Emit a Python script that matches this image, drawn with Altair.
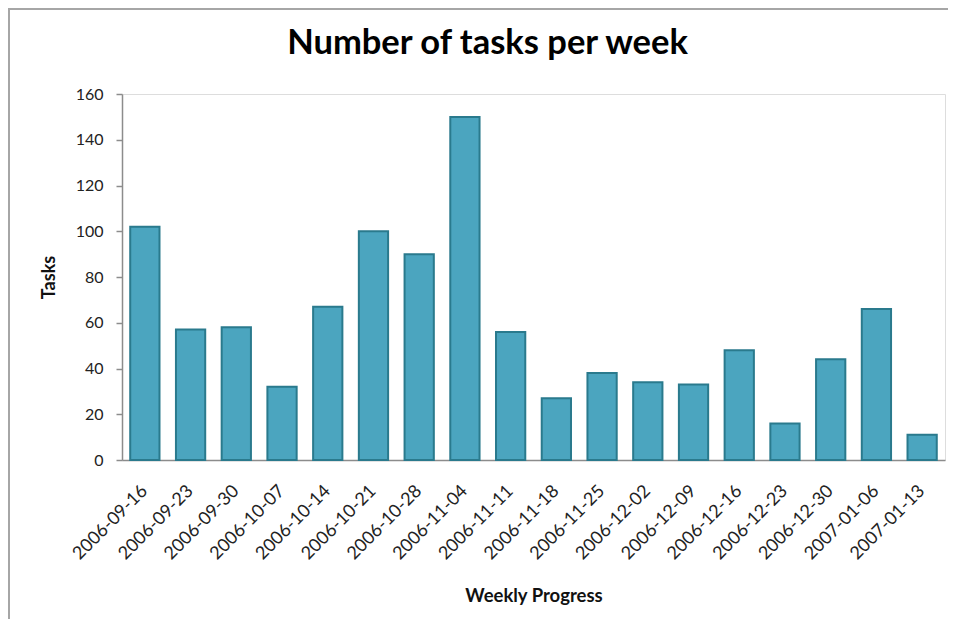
import altair as alt
import pandas as pd

weeks = ["2006-09-16", "2006-09-23", "2006-09-30", "2006-10-07", "2006-10-14",
         "2006-10-21", "2006-10-28", "2006-11-04", "2006-11-11", "2006-11-18",
         "2006-11-25", "2006-12-02", "2006-12-09", "2006-12-16", "2006-12-23",
         "2006-12-30", "2007-01-06", "2007-01-13"]
tasks = [102, 57, 58, 32, 67, 100, 90, 150, 56, 27, 38, 34, 33, 48, 16, 44, 66, 11]
y_ticks = [0, 20, 40, 60, 80, 100, 120, 140, 160]

df = pd.DataFrame({"week": weeks, "tasks": tasks})

FONT = "Lato"
W, H = 823, 366
PL, PT, PR, PB = 114, 86, 3, 159

bars = alt.Chart(df).mark_bar(
    fill="#4BA5BF", stroke="#2A7A8D", strokeWidth=2
).encode(
    x=alt.X("week:N", sort=None, title="Weekly Progress",
            scale=alt.Scale(paddingInner=0.36, paddingOuter=0.18),
            axis=alt.Axis(labelAngle=-45, labelAlign="right", labelBaseline="middle",
                          ticks=False, labelPadding=28, labelFontSize=18,
                          labelColor="#222222", labelFont=FONT,
                          domainColor="#8C8C8C", domainWidth=1.5,
                          titleFont=FONT, titleFontSize=18.5, titleFontWeight="bold",
                          titleColor="#111111", titlePadding=24)),
    y=alt.Y("tasks:Q", title="Tasks",
            scale=alt.Scale(domain=[0, 160]),
            axis=alt.Axis(values=y_ticks, grid=False, tickSize=6, tickColor="#8C8C8C",
                          tickWidth=1.5, domainColor="#8C8C8C", domainWidth=1.5,
                          labelPadding=13, labelFontSize=16, labelColor="#222222",
                          labelFont=FONT, titleFont=FONT, titleFontSize=18,
                          titleFontWeight="bold", titleColor="#111111",
                          titlePadding=17))
)

border_data = alt.Data(values=[{"k": 1}])
top_border = alt.Chart(border_data).mark_rule(color="#A6A6A6", strokeWidth=2).encode(
    x=alt.value(-PL), x2=alt.value(W + PR), y=alt.value(-PT + 1)
)
left_border = alt.Chart(border_data).mark_rule(color="#A6A6A6", strokeWidth=2).encode(
    x=alt.value(-PL + 1), y=alt.value(-PT), y2=alt.value(H + PB)
)

chart = alt.layer(bars, top_border, left_border).properties(
    width=W, height=H,
    title=alt.TitleParams("Number of tasks per week", font=FONT, fontSize=34.5,
                          fontWeight="bold", color="#000000", anchor="middle",
                          baseline="alphabetic", dx=-46, offset=-81),
    autosize=alt.AutoSizeParams(type="none"),
    padding={"left": PL, "top": PT, "right": PR, "bottom": PB},
).configure_view(fill="#E9F1F8", stroke=None).configure(background="#FFFFFF")

chart.save("out.html", embed_options={"renderer": "svg", "actions": False})
